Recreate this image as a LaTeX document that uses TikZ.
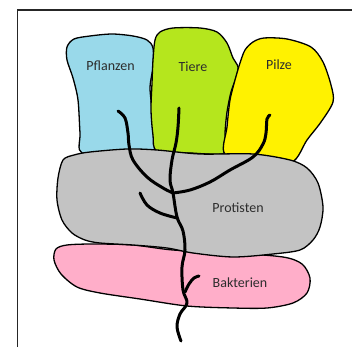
\documentclass[tikz,border=0pt]{standalone}
\usepackage{fontspec}
\setmainfont{Carlito}
\definecolor{cBlue}{RGB}{153,217,234}
\definecolor{cGreen}{RGB}{181,230,29}
\definecolor{cYellow}{RGB}{255,242,0}
\definecolor{cGray}{RGB}{195,195,195}
\definecolor{cPink}{RGB}{255,174,201}
\definecolor{cText}{RGB}{45,45,45}
\begin{document}
\begin{tikzpicture}[x=1pt,y=-1pt,
  blob/.style={draw=black,line width=1.3pt,line join=round},
  branch/.style={draw=black,line width=3pt,line cap=round,line join=round},
  label/.style={anchor=base,inner sep=0pt,text=cText,font=\fontsize{14}{16}\selectfont}]
\useasboundingbox (0,0) rectangle (352,347);
% frame
\draw[line width=1.4pt,draw=black!85] (17.5,347) -- (17.5,10) -- (352,10);
% Pflanzen
\draw[blob,fill=cBlue] plot[smooth cycle,tension=0.5] coordinates {
 (67,47) (74,39) (90,36) (112,34) (133,36) (147,40) (153,48) (153,67) (150,87)
 (152,110) (153,133) (156,151) (120,152) (82,153) (80,133) (78,100) (73,78) (67,60)};
% Tiere
\draw[blob,fill=cGreen] plot[smooth cycle,tension=0.5] coordinates {
 (155,40) (160,32) (173,28) (200,28) (217,32) (227,43) (233,58) (238,67)
 (236,78) (231,92) (227,112) (225,133) (225,153) (190,153) (157,151) (153,135) (151,110) (152,83) (153,60)};
% Pilze
\draw[blob,fill=cYellow] plot[smooth cycle,tension=0.5] coordinates {
 (240,63) (245,50) (253,42) (264,38) (287,39) (311,47) (323,62) (331,85) (333,102)
 (321,122) (307,140) (292,162) (260,158) (225,154) (227,127) (230,100) (235,80)};
% Bakterien
\draw[blob,fill=cPink] plot[smooth cycle,tension=0.5] coordinates {
 (56,249) (67,245) (93,244) (133,245) (173,250) (233,253) (283,257) (302,264)
 (310,278) (307,293) (293,303) (267,308) (233,308) (187,306) (140,299) (100,293)
 (77,287) (61,274) (54,260)};
% Protisten
\draw[blob,fill=cGray] plot[smooth cycle,tension=0.5] coordinates {
 (63,160) (74,155) (90,152) (127,149) (157,150) (200,154) (253,154) (290,160)
 (307,168) (318,183) (323,207) (320,227) (313,240) (300,250) (273,254) (233,257)
 (193,253) (167,248) (133,245) (100,243) (85,240) (72,233) (62,220) (57,200) (58,178)};
% labels
\node[label] (pfl) at (110.5,71) {Pflanzen};
\node[label] (tie) at (193,71.5) {Tiere};
\node[label] (pil) at (279,70) {Pilze};
\node[label] (pro) at (238,212.5) {Protisten};
\node[label] (bak) at (240,287.5) {Bakterien};
% tree
\draw[branch] plot[smooth,tension=0.6] coordinates {
 (179,108) (178,127) (176,143) (172,160) (170,180) (173,193) (177,217) (183,231)
 (185,250) (182,267) (183,290) (187,303) (180,314) (177,327) (181,341)};
\draw[branch] plot[smooth,tension=0.6] coordinates {
 (118,111) (125,118) (128,133) (129,145) (133,160) (147,177) (163,188) (173,193)};
\draw[branch] plot[smooth,tension=0.6] coordinates {
 (270,115) (267,119) (266,133) (263,144) (253,157) (230,170) (210,182) (190,190) (173,193)};
\draw[branch] plot[smooth,tension=0.6] coordinates {
 (140,193) (147,205) (160,213) (177,218)};
\draw[branch] plot[smooth,tension=0.6] coordinates {
 (199,276) (194,278) (189,284) (185,292)};
\end{tikzpicture}
\end{document}
